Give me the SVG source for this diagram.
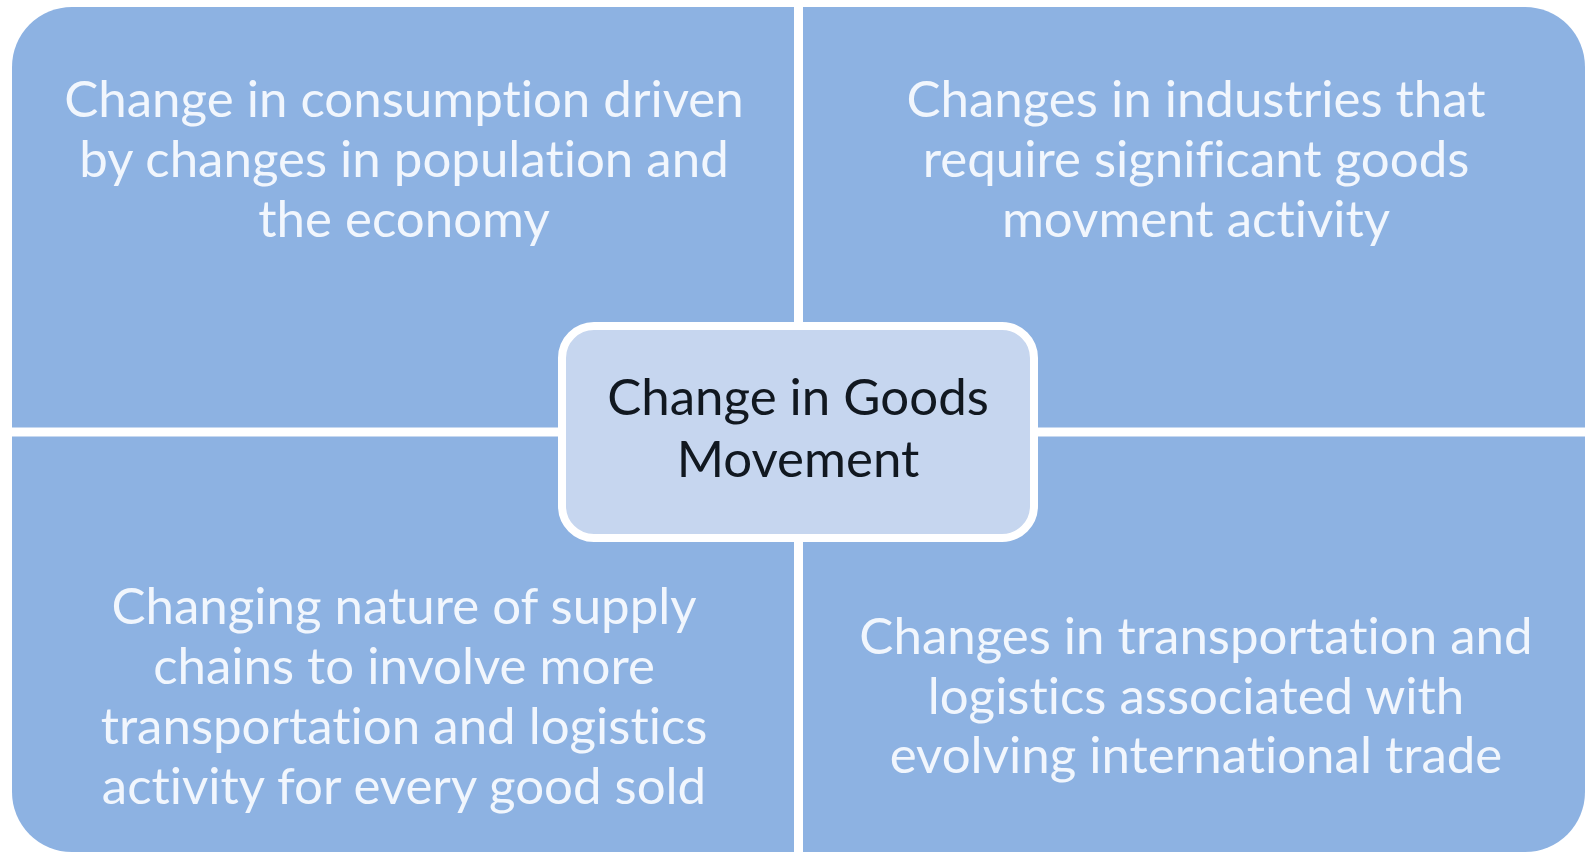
<svg xmlns="http://www.w3.org/2000/svg" width="1585" height="852" viewBox="0 0 1585 852">
  <style>
    .quad { fill: #8DB2E2; }
    .qtext { font-family: Lato, "Open Sans", "Liberation Sans", sans-serif; font-size: 51px; fill: #F1F6FD; text-anchor: middle; font-variant-ligatures: none; font-feature-settings: "liga" 0, "clig" 0; }
    .center { fill: #C6D6EF; stroke: #FFFFFF; stroke-width: 8; }
    .ctext { font-family: Lato, "Open Sans", "Liberation Sans", sans-serif; font-size: 51px; fill: #111820; text-anchor: middle; font-variant-ligatures: none; font-feature-settings: "liga" 0, "clig" 0; }
  </style>
  <rect x="0" y="0" width="1585" height="852" fill="#FFFFFF"/>
  <g id="quad-top-left">
    <path class="quad" d="M12,67 A60,60 0 0 1 72,7 L794,7 L794,427.5 L12,427.5 Z"/>
    <text class="qtext" x="404" y="117">Change in consumption driven</text>
    <text class="qtext" x="404" y="177">by changes in population and</text>
    <text class="qtext" x="404" y="237">the economy</text>
  </g>
  <g id="quad-top-right">
    <path class="quad" d="M803,7 L1525,7 A60,60 0 0 1 1585,67 L1585,427.5 L803,427.5 Z"/>
    <text class="qtext" x="1196" y="117">Changes in industries that</text>
    <text class="qtext" x="1196" y="177">require significant goods</text>
    <text class="qtext" x="1196" y="237">movment activity</text>
  </g>
  <g id="quad-bottom-left">
    <path class="quad" d="M12,436.5 L794,436.5 L794,852 L72,852 A60,60 0 0 1 12,792 Z"/>
    <text class="qtext" x="404" y="624">Changing nature of supply</text>
    <text class="qtext" x="404" y="684">chains to involve more</text>
    <text class="qtext" x="404" y="744">transportation and logistics</text>
    <text class="qtext" x="404" y="804">activity for every good sold</text>
  </g>
  <g id="quad-bottom-right">
    <path class="quad" d="M803,436.5 L1585,436.5 L1585,792 A60,60 0 0 1 1525,852 L803,852 Z"/>
    <text class="qtext" x="1196" y="654">Changes in transportation and</text>
    <text class="qtext" x="1196" y="714">logistics associated with</text>
    <text class="qtext" x="1196" y="773">evolving international trade</text>
  </g>
  <g id="connectors"></g>
  <g id="center-node">
    <rect class="center" x="562" y="326" width="472" height="212" rx="32" ry="32"/>
    <text class="ctext" x="798" y="415">Change in Goods</text>
    <text class="ctext" x="798" y="477">Movement</text>
  </g>
</svg>
